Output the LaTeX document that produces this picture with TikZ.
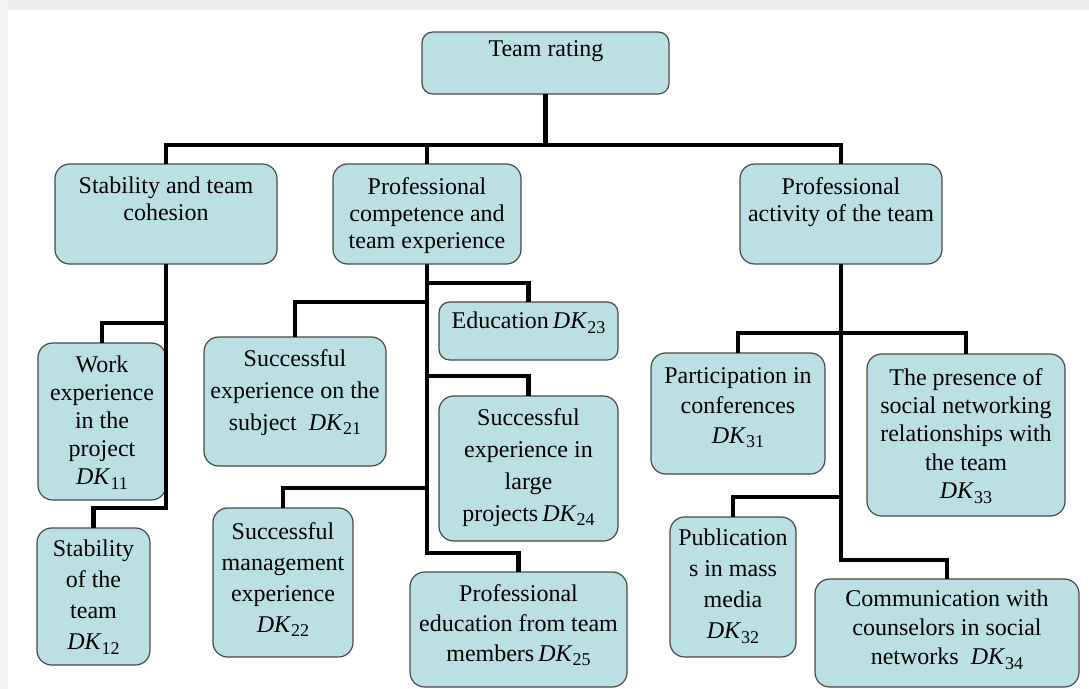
\documentclass[tikz,border=0pt]{standalone}
\usepackage{fontspec}
\setmainfont{Liberation Serif}
\usetikzlibrary{fit}

\definecolor{cardfill}{RGB}{186,224,227}
\definecolor{cardedge}{RGB}{72,72,72}
\definecolor{framegray}{RGB}{238,238,238}

% indicator label with a lowered upright index
\newcommand\dk[1]{\textit{DK}\raisebox{-3.5pt}{\fontsize{13.5pt}{13.5pt}\selectfont #1}}

\tikzset{
  card/.style={draw=cardedge, fill=cardfill, line width=0.9pt,
               rounded corners=11pt, inner sep=0pt, outer sep=0pt},
  caption/.style={anchor=north, align=center, inner sep=0pt,
                  font=\fontsize{18pt}{#1}\selectfont},
  caption/.default=21pt,
  wire/.style={line width=3.2pt, black}
}

\begin{document}
\begin{tikzpicture}[x=0.75pt, y=-0.75pt]
\useasboundingbox (0,0) rectangle (1089,689);

% page frame strips
\fill[framegray] (0,0) rectangle (1089,10);
\fill[framegray!70!white] (0,0) rectangle (8,689);

% ---- boxes ----
\node[card, rounded corners=8pt, fit={(422,32) (669,94)}] (top) {};
\node[caption] (topt) at (546,40.5) {Team rating};

\node[card, fit={(55,164) (277,264)}] (s1) {};
\node[caption=20.25pt] (s1t) at (166,177) {Stability and team\\cohesion};
\node[card, fit={(333,164) (521,264)}] (s2) {};
\node[caption=20.25pt] (s2t) at (427,177) {Professional\\competence and\\team experience};
\node[card, fit={(740,164) (942,264)}] (s3) {};
\node[caption=20.25pt] (s3t) at (841,177) {Professional\\activity of the team};

\node[card, fit={(38,343) (166,500)}] (c11) {};
\node[caption=21pt] (c11t) at (102,356) {Work\\experience\\in the\\project\\\dk{11}};
\node[card, fit={(37,528) (150,665)}] (c12) {};
\node[caption=23.25pt] (c12t) at (93.5,540) {Stability\\of the\\team\\\dk{12}};

\node[card, fit={(204,337) (386,466)}] (c21) {};
\node[caption=24pt] (c21t) at (295,349) {Successful\\experience on the\\subject\ \ \dk{21}};
\node[card, fit={(213,508) (353,657)}] (c22) {};
\node[caption=23.25pt] (c22t) at (283,522) {Successful\\management\\experience\\\dk{22}};
\node[card, rounded corners=8pt, fit={(439,302) (618,360)}] (c23) {};
\node[caption] (c23t) at (528.5,312) {Education\,\dk{23}};
\node[card, fit={(439,396) (618,541)}] (c24) {};
\node[caption=24pt] (c24t) at (528.5,408) {Successful\\experience in\\large\\projects\,\dk{24}};
\node[card, fit={(410,572) (627,687)}] (c25) {};
\node[caption=22.5pt] (c25t) at (518.5,584) {Professional\\education from team\\members\,\dk{25}};

\node[card, fit={(651,353) (825,474)}] (c31) {};
\node[caption=22.5pt] (c31t) at (738,367) {Participation in\\conferences\\\dk{31}};
\node[card, fit={(670,517) (796,657)}] (c32) {};
\node[caption=23.25pt] (c32t) at (733,529) {Publication\\s in mass\\media\\\dk{32}};
\node[card, fit={(867,354) (1065,516)}] (c33) {};
\node[caption=21.25pt] (c33t) at (966,368) {The presence of\\social networking\\relationships with\\the team\\\dk{33}};
\node[card, fit={(815,579) (1079,687)}] (c34) {};
\node[caption=21.75pt] (c34t) at (947,590) {Communication with\\counselors in social\\networks\ \ \dk{34}};

% ---- bend levels of the connectors ----
\coordinate (bus) at (0,145);
\coordinate (l11) at (0,323);
\coordinate (l12) at (0,508);
\coordinate (l23) at (0,283);
\coordinate (l21) at (0,302);
\coordinate (l24) at (0,376);
\coordinate (l22) at (0,488);
\coordinate (l25) at (0,553);
\coordinate (l3a) at (0,333);
\coordinate (l32) at (0,497);
\coordinate (l34) at (0,560);

% ---- connectors ----
\draw[wire] (top.south) -- (top.south |- bus);
\draw[wire] (s1.north) -- (s1.north |- bus) -| (s3.north);
\draw[wire] (s2.north) -- (s2.north |- bus);

\draw[wire] (s1.south) -- (s1.south |- l12) -| (c12.north);
\draw[wire] (s1.south |- l11) -| (c11.north);

\draw[wire] (s2.south) -- (s2.south |- l25) -| (c25.north);
\draw[wire] (s2.south |- l23) -| (c23.north);
\draw[wire] (s2.south |- l21) -| (c21.north);
\draw[wire] (s2.south |- l24) -| (c24.north);
\draw[wire] (s2.south |- l22) -| (c22.north);

\draw[wire] (s3.south) -- (s3.south |- l34) -| (c34.north);
\draw[wire] (c31.north) |- (s3.south |- l3a) -| (c33.north);
\draw[wire] (s3.south |- l32) -| (c32.north);
\end{tikzpicture}
\end{document}
